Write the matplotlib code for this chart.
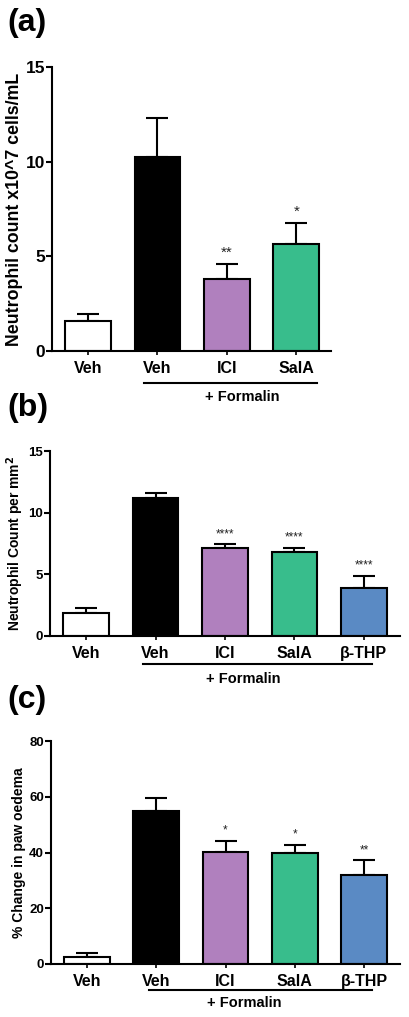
import matplotlib.pyplot as plt
from matplotlib.transforms import blended_transform_factory

plt.rcParams['font.family'] = ['Liberation Sans', 'DejaVu Sans']
plt.rcParams['font.weight'] = 'bold'

# panel (a)
labels_a = ['Veh', 'Veh', 'ICI', 'SalA']
mean_a = [1.6, 10.25, 3.8, 5.65]
sem_a = [0.35, 2.05, 0.8, 1.1]
stars_a = ['', '', '**', '*']

# panels (b) and (c)
labels_bc = ['Veh', 'Veh', 'ICI', 'SalA', 'β-THP']
mean_b = [1.9, 11.15, 7.1, 6.85, 3.9]
sem_b = [0.35, 0.45, 0.35, 0.3, 1.0]
stars_b = ['', '', '****', '****', '****']

mean_c = [2.5, 54.8, 40.1, 39.8, 32.0]
sem_c = [1.6, 4.8, 4.0, 2.9, 5.2]
stars_c = ['', '', '*', '*', '**']

colors = ['white', 'black', '#B080BE', '#38BD8C', '#5A8AC4']

W, H = 409, 1017
fig = plt.figure(figsize=(W / 100, H / 100), dpi=100)


def px_ax(l, r, b, t):
    return fig.add_axes([l / W, 1 - b / H, (r - l) / W, (b - t) / H])


def panel(ax, labels, means, sems, stars, ymax, yticks, ylabel, tick_fs, ylab_fs,
          xlim_r, line_x, text_x, line_y, text_y, star_fs):
    x = list(range(len(labels)))
    ax.bar(x, means, width=0.66, color=colors[:len(labels)], edgecolor='black',
           linewidth=1.5, zorder=2)
    ax.errorbar(x, means, yerr=[[0] * len(x), sems], fmt='none', ecolor='black',
                elinewidth=1.5, capsize=8, capthick=1.5, zorder=1)
    for xi, m, s, st in zip(x, means, sems, stars):
        if st:
            ax.annotate(st, (xi, m + s), xytext=(0, 3), textcoords='offset points',
                        ha='center', va='bottom', fontsize=star_fs, fontweight='normal',
                        color='#222222')
    ax.set_xlim(-0.52, xlim_r)
    ax.set_ylim(0, ymax)
    ax.set_yticks(yticks)
    ax.tick_params(axis='y', labelsize=tick_fs, width=1.5, length=4, pad=1)
    ax.set_xticks(x)
    ax.set_xticklabels(labels, fontsize=11.5, fontweight='bold')
    ax.tick_params(axis='x', width=1.2, length=3, pad=4)
    ax.set_ylabel(ylabel, fontsize=ylab_fs, fontweight='bold', labelpad=2)
    for s in ['top', 'right']:
        ax.spines[s].set_visible(False)
    for s in ['left', 'bottom']:
        ax.spines[s].set_linewidth(1.5)
    tr = blended_transform_factory(ax.transData, fig.transFigure)
    ax.plot(line_x, [1 - line_y / H] * 2, color='black', lw=1.5, transform=tr,
            clip_on=False)
    ax.text(text_x, 1 - text_y / H, '+ Formalin', transform=tr, ha='center',
            va='center', fontsize=10.5, fontweight='bold')


ax_a = px_ax(52, 331, 351, 67)
panel(ax_a, labels_a, mean_a, sem_a, stars_a, 15, [0, 5, 10, 15],
      'Neutrophil count x10^7 cells/mL', 12.5, 12.8, 3.5, [0.8, 3.3], 2.22, 383, 397, 11)

ax_b = px_ax(50, 400, 636, 451)
panel(ax_b, labels_bc, mean_b, sem_b, stars_b, 15, [0, 5, 10, 15],
      'Neutrophil Count per mm$^\\mathbf{2}$', 9.5, 10, 4.52, [0.82, 4.12], 2.26, 664, 679, 8.5)

ax_c = px_ax(51, 400, 964, 741)
panel(ax_c, labels_bc, mean_c, sem_c, stars_c, 80, [0, 20, 40, 60, 80],
      '% Change in paw oedema', 9.5, 10, 4.52, [0.89, 4.12], 2.27, 990, 1003, 8.5)

for lab, y in [('(a)', 23), ('(b)', 408), ('(c)', 700)]:
    fig.text(7 / W, 1 - y / H, lab, fontsize=23, fontweight='heavy', va='center',
             ha='left')

fig.savefig('out.png', dpi=100)
